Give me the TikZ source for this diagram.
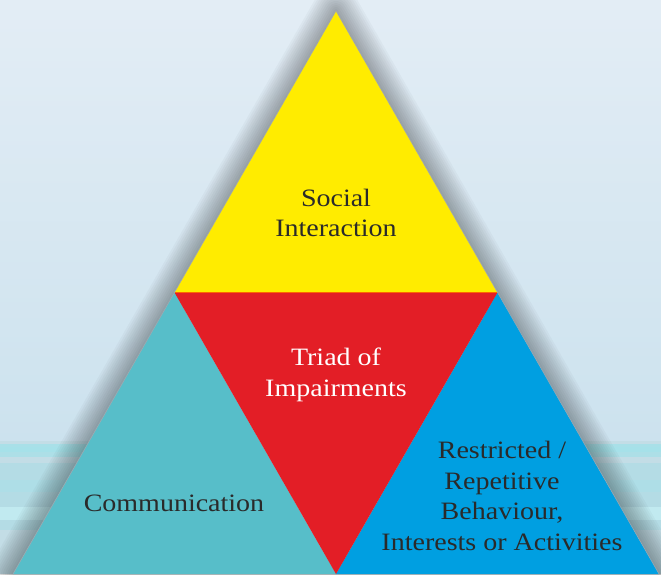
\documentclass[tikz,border=0pt]{standalone}
\usepackage{fontspec}
\setmainfont{Liberation Serif}[FakeStretch=1.12]
\usetikzlibrary{calc}
\begin{document}
\begin{tikzpicture}[x=1pt,y=-1pt,
  label text/.style={align=center,font=\fontsize{25}{30.5}\selectfont,text=ink}]
\definecolor{skytop}{HTML}{E3EDF5}
\definecolor{skylow}{HTML}{CCE2EE}
\definecolor{seabase}{HTML}{B4DCE5}
\definecolor{seacyan}{HTML}{A6E1E9}
\definecolor{seapale}{HTML}{C3DDE6}
\definecolor{yellowface}{HTML}{FFEC00}
\definecolor{redface}{HTML}{E31E26}
\definecolor{tealface}{HTML}{57BEC9}
\definecolor{blueface}{HTML}{009FE1}
\definecolor{ink}{HTML}{2A2A2A}
\definecolor{shade}{HTML}{66727E}

\useasboundingbox (0,0) rectangle (661,574);

% sky
\shade[top color=skytop,bottom color=skylow] (0,0) rectangle (661,442);
% sea bands
\fill[seabase] (0,442) rectangle (661,574);
\fill[seapale] (0,441) rectangle (661,444);
\fill[seacyan!80!seabase] (0,444) rectangle (661,447);
\fill[seacyan] (0,447) rectangle (661,452);
\fill[seacyan!50!seabase] (0,452) rectangle (661,457);
\fill[seapale] (0,457) rectangle (661,463);
\fill[seacyan!40!seabase] (0,480) rectangle (661,492);
\fill[seacyan!70!white] (0,507) rectangle (661,520);
\fill[seapale] (0,530) rectangle (661,574);

% corner points of the pyramid
\coordinate (top) at (336,11);
\coordinate (bl) at (13,574);
\coordinate (br) at (659,574);
\coordinate (ml) at ($(top)!0.5!(bl)$);
\coordinate (mr) at ($(top)!0.5!(br)$);
\coordinate (mb) at ($(bl)!0.5!(br)$);

% soft drop shadow round the pyramid
\foreach \w in {4,8,...,48}
  \draw[shade,opacity=0.028,line width=\w pt,line join=round] (top) -- (bl) -- (br) -- cycle;

% the four faces
\fill[yellowface] (top) -- (ml) -- (mr) -- cycle;
\fill[tealface] (ml) -- (bl) -- (mb) -- cycle;
\fill[blueface] (mr) -- (mb) -- (br) -- cycle;
\fill[redface] (ml) -- (mr) -- (mb) -- cycle;
\draw[orange!80!red,line width=0.8pt] (ml) -- (mr);
\draw[shade!60,line width=0.5pt] (bl) -- (top) -- (br);

% labels
\node[label text] (social) at (336,213) {Social\\Interaction};
\node[label text,text=white] (triad) at (336,375) {Triad of\\Impairments};
\node[label text] (comm) at (174,503) {Communication};
\node[label text] (rrb) at (502,496) {Restricted /\\Repetitive\\Behaviour,\\Interests or Activities};
\end{tikzpicture}
\end{document}
